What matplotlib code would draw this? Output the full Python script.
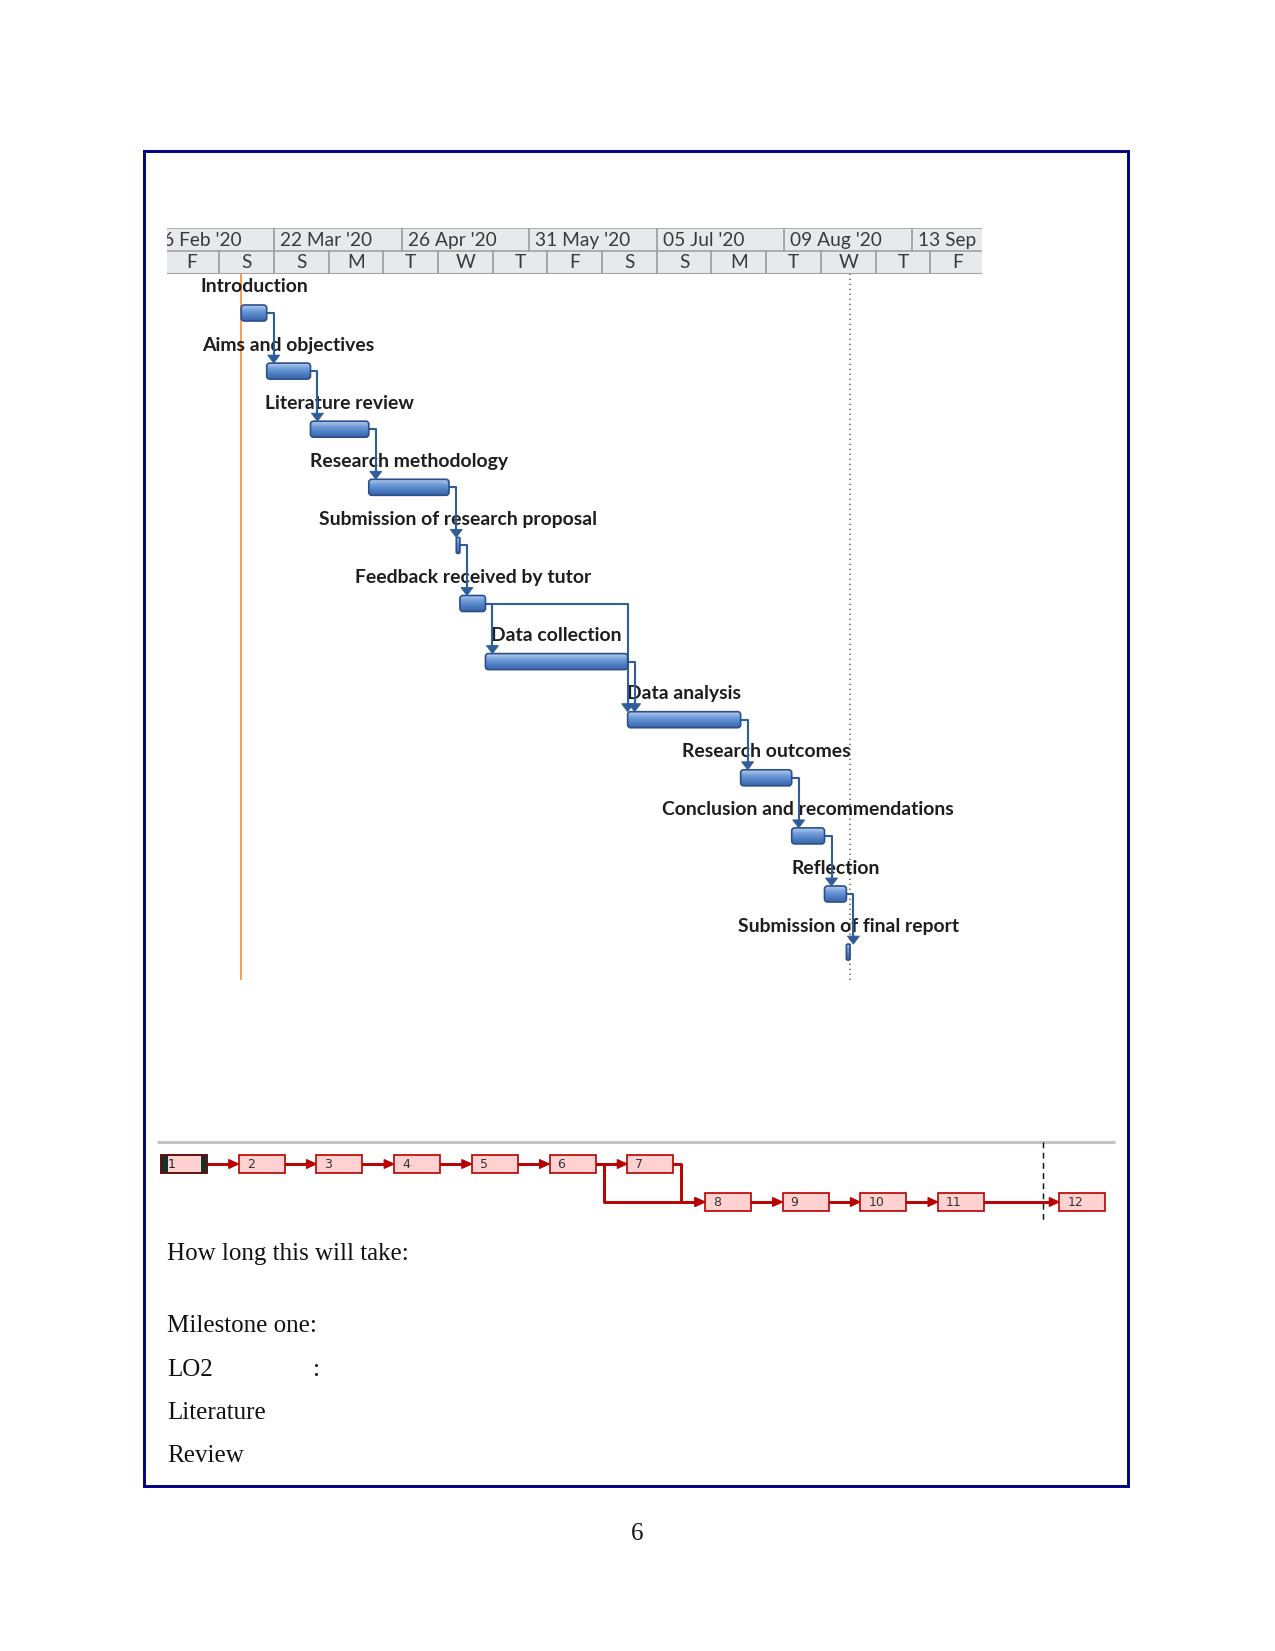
import matplotlib
matplotlib.use("Agg")
import matplotlib.pyplot as plt
import matplotlib.dates as mdates
from matplotlib.patches import Rectangle, FancyBboxPatch, Polygon
from matplotlib.colors import LinearSegmentedColormap
import numpy as np

# ---------------- data ----------------
tasks = ["Introduction", "Aims and objectives", "Literature review", "Research methodology",
         "Submission of research proposal", "Feedback received by tutor", "Data collection",
         "Data analysis", "Research outcomes", "Conclusion and recommendations", "Reflection",
         "Submission of final report"]
starts = ["2020-03-13", "2020-03-20", "2020-04-01", "2020-04-17", "2020-05-11", "2020-05-12",
          "2020-05-19", "2020-06-27", "2020-07-28", "2020-08-11", "2020-08-20", "2020-08-26"]
durations = [7, 12, 16, 22, 1, 7, 39, 31, 14, 9, 6, 1]
links = [(0, 1), (1, 2), (2, 3), (3, 4), (4, 5), (5, 6), (5, 7), (6, 7), (7, 8), (8, 9), (9, 10), (10, 11)]
project_start = "2020-03-13"
status_date = "2020-08-27"
major_dates = ["2020-02-16", "2020-03-22", "2020-04-26", "2020-05-31", "2020-07-05", "2020-08-09", "2020-09-13"]
major_labels = ["16 Feb '20", "22 Mar '20", "26 Apr '20", "31 May '20", "05 Jul '20", "09 Aug '20", "13 Sep '20"]
minor_dates = ["2020-02-21", "2020-03-07", "2020-03-22", "2020-04-06", "2020-04-21", "2020-05-06",
               "2020-05-21", "2020-06-05", "2020-06-20", "2020-07-05", "2020-07-20", "2020-08-04",
               "2020-08-19", "2020-09-03", "2020-09-18"]
minor_labels = ["F", "S", "S", "M", "T", "W", "T", "F", "S", "S", "M", "T", "W", "T", "F"]

net_ids = [str(i) for i in range(1, 13)]
net_row = [0, 0, 0, 0, 0, 0, 0, 1, 1, 1, 1, 1]
net_col = [0, 1, 2, 3, 4, 5, 6, 7, 8, 9, 10, 11.56]
net_status_col = 11.35

text_lines = ["How long this will take:", "Milestone one:", "LO2", "Literature", "Review"]
page_number = "6"

# ---------------- layout ----------------
W, H, DPI = 1275, 1651, 150
fig = plt.figure(figsize=(W / DPI, H / DPI), dpi=DPI)


def ax_at(x0, y0, x1, y1):
    return fig.add_axes([x0 / W, 1 - y1 / H, (x1 - x0) / W, (y1 - y0) / H])


page = ax_at(0, 0, W, H)
page.set_xlim(0, W)
page.set_ylim(H, 0)
page.axis('off')

# border
page.add_patch(Rectangle((144, 151), 1128 - 144, 1486 - 151, fc='none', ec='#000080', lw=1.4))

# ---------------- Gantt ----------------
PX = 127.6 / 35.0          # px per day
ANCHOR_PX = 274            # px of 22 Mar
anchor = mdates.date2num(np.datetime64("2020-03-22"))
GX0, GX1 = 167, 982
GY0, GY1 = 274, 980
ROW0, ROWH = 313, 58.1
xlim = (anchor + (GX0 - ANCHOR_PX) / PX, anchor + (GX1 - ANCHOR_PX) / PX)
ylim = ((GY1 - ROW0) / ROWH, (GY0 - ROW0) / ROWH)

gx = ax_at(GX0, GY0, GX1, GY1)
gx.axis('off')

s = mdates.date2num(np.array(starts, dtype='datetime64[D]'))
e = s + np.array(durations, dtype=float)
BAR_H = 16 / ROWH
cmap = LinearSegmentedColormap.from_list('bar', ['#B5CDEE', '#729DD8', '#4E7FC4', '#3A66A8'])
grad = np.linspace(0, 1, 64).reshape(-1, 1)
LINK_C = '#2F5C9A'

gx.axvline(mdates.date2num(np.datetime64(project_start)), color='#F39A52', lw=0.9, zorder=1)
gx.axvline(mdates.date2num(np.datetime64(status_date)), color='#666666', lw=0.8,
           ls=(0, (0.8, 2.2)), zorder=1)

for i, name in enumerate(tasks):
    x0, x1 = s[i], e[i]
    w = x1 - x0
    r = min(3.0 / PX, w / 2.5)
    patch = FancyBboxPatch((x0, i - BAR_H / 2), w, BAR_H,
                           boxstyle=f"round,pad=0,rounding_size={r}",
                           mutation_aspect=PX / ROWH, fc='none', ec='#2B4F8A', lw=0.8, zorder=5)
    gx.add_patch(patch)
    im = gx.imshow(grad, cmap=cmap, extent=[x0, x1, i + BAR_H / 2, i - BAR_H / 2],
                   aspect='auto', zorder=4, interpolation='bilinear', origin='upper')
    im.set_clip_path(patch)
    gx.text((x0 + x1) / 2, i - 26 / ROWH, name, ha='center', va='center',
            family='Lato', weight='bold', fontsize=9.3, color='#1E1E1E', zorder=2)

for a, b in links:
    xv = max(e[a] + 7 / PX, s[b])
    ytip = b - BAR_H / 2
    ybase = ytip - 8 / ROWH
    gx.plot([e[a], xv, xv], [a, a, ybase], color=LINK_C, lw=1.0, zorder=3,
            solid_joinstyle='round')
    gx.add_patch(Polygon([[xv - 6 / PX, ybase], [xv + 6 / PX, ybase], [xv, ytip]],
                         closed=True, fc=LINK_C, ec=LINK_C, lw=0.4, zorder=6))

gx.set_xlim(*xlim)
gx.set_ylim(*ylim)

# header
hx = ax_at(GX0, 228, GX1, 274)
hx.axis('off')
hx.add_patch(Rectangle((xlim[0], 0), xlim[1] - xlim[0], 2, fc='#E7E9ED', ec='none'))
HDR_EDGE = '#A3A3A3'
for yv in (0, 1, 2):
    hx.plot(xlim, [yv, yv], color=HDR_EDGE, lw=0.8 if yv != 2 else 1.0)
md = mdates.date2num(np.array(major_dates, dtype='datetime64[D]'))
for d, lab in zip(md, major_labels):
    hx.plot([d, d], [0, 1], color=HDR_EDGE, lw=0.9)
    hx.text(d + 6 / PX, 0.55, lab, ha='left', va='center', family='Lato', fontsize=9.2,
            color='#3A3A3A', clip_on=True)
nd = mdates.date2num(np.array(minor_dates, dtype='datetime64[D]'))
for d, lab in zip(nd, minor_labels):
    hx.plot([d, d], [1, 2], color=HDR_EDGE, lw=0.9)
    hx.text(d + 7.5, 1.52, lab, ha='center', va='center', family='Lato', fontsize=9.2,
            color='#3A3A3A', clip_on=True)
hx.set_xlim(*xlim)
hx.set_ylim(2, 0)

# ---------------- Network diagram ----------------
page.plot([157, 1115], [1142, 1142], color='#C4C4C4', lw=1.5, solid_capstyle='butt')
NX0, NSP, NW, NH = 161, 77.7, 46, 18
NROWY = [1164, 1202]
NET_C = '#B80000'
page.plot([NX0 + net_status_col * NSP] * 2, [1142, 1223], color='#111111', lw=0.7,
          ls=(0, (4, 3)))


def box_left(k):
    return NX0 + net_col[k] * NSP


for a, b in links:
    xa = box_left(a) + NW
    ya = NROWY[net_row[a]]
    xb = box_left(b)
    yb = NROWY[net_row[b]]
    if ya == yb:
        xs, ys = [xa, xb - 8], [ya, yb]
    else:
        xv = xa + 8
        xs, ys = [xa, xv, xv, xb - 8], [ya, ya, yb, yb]
    page.plot(xs, ys, color=NET_C, lw=1.4, zorder=2, solid_joinstyle='round')
    page.add_patch(Polygon([[xb - 10, yb - 4.5], [xb - 10, yb + 4.5], [xb, yb]], closed=True,
                           fc=NET_C, ec=NET_C, lw=0.5, zorder=3))

for k, lab in enumerate(net_ids):
    x0 = box_left(k)
    y0 = NROWY[net_row[k]] - NH / 2
    page.add_patch(Rectangle((x0, y0), NW, NH, fc='#FFD1D1', ec=NET_C, lw=0.8, zorder=3))
    if k == 0:
        page.add_patch(Rectangle((x0, y0), 7, NH, fc='#16302A', ec='none', zorder=4))
        page.add_patch(Rectangle((x0 + NW - 6, y0), 6, NH, fc='#16302A', ec='none', zorder=4))
        page.add_patch(Rectangle((x0, y0), NW, NH, fc='none', ec='#5A1010', lw=0.8, zorder=5))
        page.text(x0 + 7, y0 + NH / 2 + 0.5, lab, ha='left', va='center', family='DejaVu Sans',
                  fontsize=6.0, color='#222222', zorder=6)
    else:
        page.text(x0 + 8, y0 + NH / 2 + 0.5, lab, ha='left', va='center', family='DejaVu Sans',
                  fontsize=6.0, color='#333333', zorder=6)

# ---------------- Text ----------------
serif = dict(family='Liberation Serif', fontsize=12, color='#111111', va='baseline')
baselines = [1260, 1332, 1376, 1419, 1462]
for t, yb in zip(text_lines, baselines):
    page.text(167, yb, t, ha='left', **serif)
page.text(313, 1376, ":", ha='left', **serif)
page.text(637, 1540, page_number, ha='center', **serif)

fig.savefig("out.png", dpi=DPI)
